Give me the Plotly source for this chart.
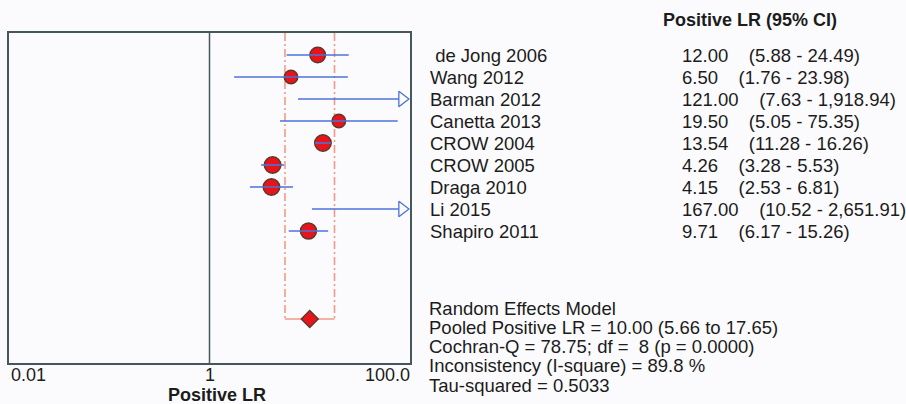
import plotly.graph_objects as go
import numpy as np

# ---------------- data ----------------
studies = ["de Jong 2006", "Wang 2012", "Barman 2012", "Canetta 2013", "CROW 2004",
           "CROW 2005", "Draga 2010", "Li 2015", "Shapiro 2011"]
lr = [12.00, 6.50, 121.00, 19.50, 13.54, 4.26, 4.15, 167.00, 9.71]
ci_low = [5.88, 1.76, 7.63, 5.05, 11.28, 3.28, 2.53, 10.52, 6.17]
ci_high = [24.49, 23.98, 1918.94, 75.35, 16.26, 5.53, 6.81, 2651.91, 15.26]

pooled_lr = 10.00
pooled_low = 5.66
pooled_high = 17.65
cochran_q = 78.75
q_df = 8
p_value = 0.0000
i_square = 89.8
tau_squared = 0.5033

x_tick_vals = [0.01, 1, 100]
x_tick_labels = ["0.01", "1", "100.0"]

# ---------------- styles ----------------
marker_sizes = [15.5, 13.5, 14, 13.5, 16.5, 16.5, 16.5, 14, 16]
FONT = "Liberation Sans, Arial, sans-serif"
TXT = "#1c1c1c"
BLUE = "#4d72d8"
RED = "#e8141c"
EDGE = "#5b3a2c"
SALMON = "#f39a86"
FRAME = "#46575c"
BG = "#fbfbfd"
NB = "\u00a0"

n = len(studies)
rows = list(range(1, n + 1))
pooled_row = n + 4
y_bottom = pooled_row + 2

x_min_log, x_max_log = np.log10(x_tick_vals[0]), np.log10(x_tick_vals[-1])
plot_w_px = 401.0
px_per_dec = plot_w_px / (x_max_log - x_min_log)
arrow_size = 13.5
r = arrow_size / 2
tip_off = r * 2 / np.sqrt(3)
base_off = r / 2
arrow_center = 10 ** (x_max_log - tip_off / px_per_dec)
arrow_base = 10 ** (x_max_log - (tip_off + base_off) / px_per_dec)

fig = go.Figure()

# pooled CI dash-dot verticals and connector
for v in (pooled_low, pooled_high):
    fig.add_trace(go.Scatter(x=[v, v], y=[0, pooled_row], mode="lines",
                             line=dict(color=SALMON, width=1.6, dash="8px,3px,2px,3px"),
                             hoverinfo="skip", showlegend=False))
fig.add_trace(go.Scatter(x=[pooled_low, pooled_high], y=[pooled_row, pooled_row], mode="lines",
                         line=dict(color=SALMON, width=1.6), hoverinfo="skip", showlegend=False))

# study markers
fig.add_trace(go.Scatter(x=lr, y=rows, mode="markers",
                         marker=dict(symbol="circle", size=marker_sizes, color=RED, opacity=1,
                                     line=dict(color=EDGE, width=1.5)),
                         showlegend=False, cliponaxis=True))

# CI lines (drawn over markers)
for i in range(n):
    hi = ci_high[i]
    if hi > x_tick_vals[-1]:
        hi_draw = arrow_base
        fig.add_trace(go.Scatter(x=[arrow_center], y=[rows[i]], mode="markers",
                                 marker=dict(symbol="triangle-right-open", size=arrow_size,
                                             color=BLUE, opacity=1, line=dict(color=BLUE, width=1.3)),
                                 showlegend=False, hoverinfo="skip"))
    else:
        hi_draw = hi
    fig.add_trace(go.Scatter(x=[ci_low[i], hi_draw], y=[rows[i], rows[i]], mode="lines",
                             line=dict(color=BLUE, width=1.6), showlegend=False, hoverinfo="skip"))

# pooled diamond
fig.add_trace(go.Scatter(x=[pooled_lr], y=[pooled_row], mode="markers",
                         marker=dict(symbol="diamond", size=13, color=RED, opacity=1,
                                     line=dict(color=EDGE, width=1.5)),
                         showlegend=False))

# vertical line at 1
fig.add_shape(type="line", xref="x", yref="paper", x0=1, x1=1, y0=0, y1=1,
              line=dict(color=FRAME, width=1.5))

annotations = []
fs = 18.5
# header
annotations.append(dict(xref="paper", yref="paper", x=1, y=1, xshift=251, yshift=13,
                        xanchor="left", yanchor="middle", showarrow=False,
                        text="<b>Positive LR (95% CI)</b>", font=dict(size=18, color=TXT, family=FONT)))
for i in range(n):
    name = (NB + studies[i]) if i == 0 else studies[i]
    annotations.append(dict(xref="paper", yref="y", x=1, y=rows[i], xshift=18,
                            xanchor="left", yanchor="middle", showarrow=False,
                            text=name, font=dict(size=fs, color=TXT, family=FONT)))
    val = f"{lr[i]:.2f}" + NB * 4 + f"({ci_low[i]:,.2f} - {ci_high[i]:,.2f})"
    annotations.append(dict(xref="paper", yref="y", x=1, y=rows[i], xshift=270,
                            xanchor="left", yanchor="middle", showarrow=False,
                            text=val, font=dict(size=fs, color=TXT, family=FONT)))

summary_lines = [
    "Random Effects Model",
    f"Pooled Positive LR = {pooled_lr:.2f} ({pooled_low:.2f} to {pooled_high:.2f})",
    f"Cochran-Q = {cochran_q:.2f}; df = {NB}{q_df} (p = {p_value:.4f})",
    f"Inconsistency (I-square) = {i_square:.1f} %",
    f"Tau-squared = {tau_squared:.4f}",
]
for k, s in enumerate(summary_lines):
    annotations.append(dict(xref="paper", yref="paper", x=1, y=0, xshift=17,
                            yshift=363 - 308 - k * 19.3,
                            xanchor="left", yanchor="middle", showarrow=False,
                            text=s, font=dict(size=fs, color=TXT, family=FONT)))

# tick labels
anchors = ["left", "center", "right"]
shifts = [0, 0, 2]
for v, t, a, sh in zip(x_tick_vals, x_tick_labels, anchors, shifts):
    annotations.append(dict(xref="x", yref="paper", x=np.log10(v), y=0, yshift=-12, xshift=sh,
                            xanchor=a, yanchor="middle", showarrow=False,
                            text=t, font=dict(size=18, color=TXT, family=FONT)))
annotations.append(dict(xref="paper", yref="paper", x=0.5, y=0, yshift=-31.5, xshift=7,
                        xanchor="center", yanchor="middle", showarrow=False,
                        text="<b>Positive LR</b>", font=dict(size=18, color=TXT, family=FONT)))

fig.update_layout(
    width=906, height=404,
    margin=dict(l=9, r=496, t=33, b=41),
    paper_bgcolor=BG, plot_bgcolor=BG,
    showlegend=False,
    annotations=annotations,
    xaxis=dict(type="log", range=[x_min_log, x_max_log], showgrid=False, zeroline=False,
               showticklabels=False, ticks="", showline=True, mirror=True,
               linecolor=FRAME, linewidth=1.5),
    yaxis=dict(range=[y_bottom, 0], showgrid=False, zeroline=False, showticklabels=False,
               ticks="", showline=True, mirror=True, linecolor=FRAME, linewidth=1.5),
)

fig.write_html("out.html")
